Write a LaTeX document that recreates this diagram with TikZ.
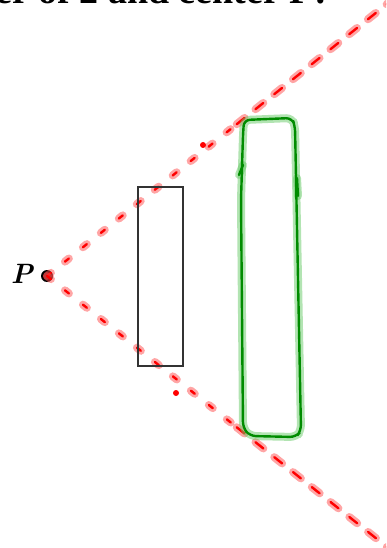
\documentclass[tikz,border=0pt]{standalone}
\usepackage{fontspec}
\newfontfamily\titlefont{Liberation Serif}
\usetikzlibrary{calc}

\begin{document}
\begin{tikzpicture}[x=1pt, y=-1pt,
    glow/.style={line width=8pt, opacity=0.5, line cap=round},
    core/.style={line width=2.4pt, line cap=round},
    ray near/.style={dash pattern=on 5pt off 18pt},
    ray far/.style={dash pattern=on 10pt off 14pt}]
    % --- Configuration ---
    \def\W{386}       % picture width
    \def\H{548}       % picture height
    \def\split{0.55}  % where the rays change dash length

    \useasboundingbox (0,0) rectangle (\W,\H);
    \clip (0,0) rectangle (\W,\H);

    % --- Title (cut off at the top) ---
    \node[anchor=base east, inner sep=0, font=\titlefont\bfseries\fontsize{38}{40}\selectfont] (title) at (332,4) {er of 2 and center P?};

    % --- Centre P ---
    \coordinate (P) at (47,276);
    \fill[black] (P) circle (6);
    \node[anchor=east, inner sep=0, font=\bfseries\itshape\fontsize{28}{30}\selectfont] (Plabel) at (33,274) {P};

    % --- Rays from P ---
    \coordinate (upEnd) at (392,0);
    \coordinate (lowEnd) at (392,551);
    \foreach \e in {upEnd, lowEnd} {
        \foreach \s/\c in {glow/red!70, core/red} {
            \draw[\s, \c, ray near] (P) -- ($(P)!\split!(\e)$);
            \draw[\s, \c, ray far] ($(P)!\split!(\e)$) -- (\e);
        }
    }

    % Stray dots
    \fill[red] (203,145) circle (3);
    \fill[red] (176,393) circle (3);

    % --- Original figure ---
    \draw[black!80, line width=2.6pt] (138,187) rectangle (183,366);

    % --- Image (hand drawn) ---
    \foreach \s/\c in {glow/green!65!black!60, core/green!55!black} {
        \draw[\s, \c, rounded corners=6pt] (243,135) -- (244,120) -- (292,118) -- (295,126)
            -- (301,431) -- (296,437) -- (250,436) -- (243,428) -- (241,200) -- cycle;
        \draw[\s, \c] (239,175) -- (243,165);
        \draw[\s, \c] (297,178) -- (298,196);
    }

\end{tikzpicture}
\end{document}
